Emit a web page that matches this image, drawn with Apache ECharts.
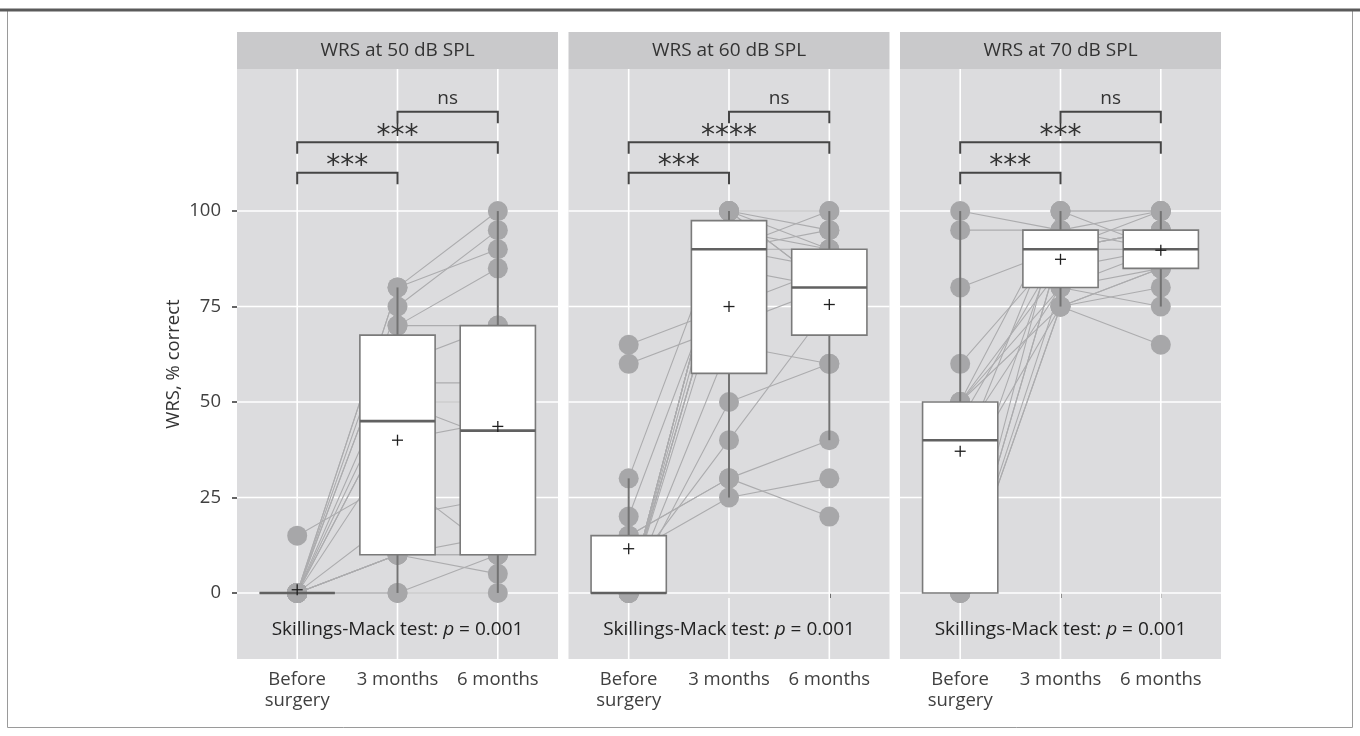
<!DOCTYPE html>
<html>
<head>
<meta charset="utf-8">
<script src="https://cdn.jsdelivr.net/npm/echarts@6/dist/echarts.min.js"></script>
<style>
  html, body { margin: 0; padding: 0; background: #ffffff; }
  #chart { width: 1360px; height: 736px; }
</style>
</head>
<body>
<div id="chart"></div>
<script>
// ---- data ----------------------------------------------------------------
const timepoints = ['Before\nsurgery', '3 months', '6 months'];
const panelTitles = ['WRS at 50 dB SPL', 'WRS at 60 dB SPL', 'WRS at 70 dB SPL'];
const yTicks = [0, 25, 50, 75, 100];

// word recognition score per patient: [before surgery, 3 months, 6 months]
const wrs50 = [
  [0, 80, 100], [0, 80, 90], [0, 75, 95], [0, 70, 85], [15, 30, 10], [0, 70, 70],
  [0, 60, 70], [0, 55, 55], [0, 50, 40], [0, 50, 50], [0, 40, 45], [0, 20, 25],
  [0, 10, 15], [0, 10, 10], [0, 10, 5], [0, 10, 10], [0, 0, 10], [0, 0, 0]
];
const wrs60 = [
  [65, 75, 85], [60, 70, 80], [30, 100, 100], [20, 90, 95], [15, 30, 20], [15, 30, 40],
  [10, 25, 30], [5, 40, 75], [0, 50, 60], [0, 65, 60], [0, 85, 80], [0, 90, 90],
  [0, 90, 100], [0, 90, 85], [0, 95, 90], [0, 100, 95], [0, 100, 90], [0, 100, 80],
  [0, 100, 80]
];
const wrs70 = [
  [100, 95, 100], [95, 95, 95], [80, 90, 90], [60, 90, 95], [50, 100, 100], [50, 80, 85],
  [50, 75, 65], [50, 85, 90], [45, 90, 95], [40, 80, 75], [35, 100, 100], [30, 75, 85],
  [20, 95, 90], [0, 90, 100], [0, 75, 80], [0, 80, 90], [0, 75, 85], [0, 90, 95],
  [0, 100, 90]
];

// pairwise comparisons: [from timepoint, to timepoint]
const comparisons = [[1, 2], [1, 3], [2, 3]];
const sig50 = ['***', '***', 'ns'];
const sig60 = ['***', '****', 'ns'];
const sig70 = ['***', '***', 'ns'];
const testLabel = ['Skillings-Mack test: ', 'p', ' = 0.001'];

// ---- layout & style ------------------------------------------------------
const panels = [
  { data: wrs50, sig: sig50 },
  { data: wrs60, sig: sig60 },
  { data: wrs70, sig: sig70 }
];
const FONT = '"Open Sans", "Noto Sans", sans-serif';
const gridTop = 69, gridHeight = 590, gridWidth = 321;
const gridLefts = [237, 568.5, 900];
const stripTop = 32, stripHeight = 37;
const yMin = -17.3, yMax = 137.2;
const bracketLevels = [110, 118, 126];
const bracketTip = 3;
const testLabelY = -9.7;
const panelBg = '#dcdcde';
const stripBg = '#c9c9cb';
const pointColor = '#a7a7a9';
const pairLineColor = '#acacae';

// ---- statistics (ggplot-style boxplot) -----------------------------------
function quantile7(sorted, p) {
  const h = (sorted.length - 1) * p;
  const lo = Math.floor(h), hi = Math.ceil(h);
  return sorted[lo] + (h - lo) * (sorted[hi] - sorted[lo]);
}
function boxStats(values) {
  const s = values.filter(v => v != null).sort((a, b) => a - b);
  const q1 = quantile7(s, 0.25), med = quantile7(s, 0.5), q3 = quantile7(s, 0.75);
  const iqr = q3 - q1;
  const lo = Math.min(...s.filter(v => v >= q1 - 1.5 * iqr));
  const hi = Math.max(...s.filter(v => v <= q3 + 1.5 * iqr));
  const mean = s.reduce((a, b) => a + b, 0) / s.length;
  return { lo, q1, med, q3, hi, mean };
}

// ---- renderers -----------------------------------------------------------
function renderGridLine(params, api) {
  const cs = params.coordSys;
  const orient = api.value(0), v = api.value(1);
  let shape;
  if (orient === 0) {
    const p = api.coord([v, 0]);
    shape = { x1: p[0], y1: cs.y, x2: p[0], y2: cs.y + cs.height };
  } else {
    const p = api.coord([1, v]);
    shape = { x1: cs.x, y1: p[1], x2: cs.x + cs.width, y2: p[1] };
  }
  return { type: 'line', shape, style: { stroke: '#ffffff', lineWidth: 1.6 } };
}

function renderBox(params, api) {
  const x = api.value(0);
  const lo = api.value(1), q1 = api.value(2), med = api.value(3), q3 = api.value(4), hi = api.value(5);
  const half = 0.375;
  const pLo = api.coord([x, lo]), pHi = api.coord([x, hi]);
  const pQ1 = api.coord([x, q1]), pQ3 = api.coord([x, q3]);
  const left = api.coord([x - half, q3]), right = api.coord([x + half, q1]);
  const mL = api.coord([x - half, med]), mR = api.coord([x + half, med]);
  const whisker = { stroke: '#737373', lineWidth: 2 };
  return {
    type: 'group',
    children: [
      { type: 'line', shape: { x1: pHi[0], y1: pHi[1], x2: pQ3[0], y2: pQ3[1] }, style: whisker },
      { type: 'line', shape: { x1: pQ1[0], y1: pQ1[1], x2: pLo[0], y2: pLo[1] }, style: whisker },
      {
        type: 'rect',
        shape: { x: left[0], y: left[1], width: right[0] - left[0], height: right[1] - left[1] },
        style: { fill: '#ffffff', stroke: '#7a7a7a', lineWidth: 1.6 }
      },
      { type: 'line', shape: { x1: mL[0], y1: mL[1], x2: mR[0], y2: mR[1] }, style: { stroke: '#616161', lineWidth: 2.6 } }
    ]
  };
}

function renderMean(params, api) {
  const p = api.coord([api.value(0), api.value(1)]);
  const r = 5.5;
  const st = { stroke: '#1f1f1f', lineWidth: 1.3 };
  return {
    type: 'group',
    children: [
      { type: 'line', shape: { x1: p[0] - r, y1: p[1], x2: p[0] + r, y2: p[1] }, style: st },
      { type: 'line', shape: { x1: p[0], y1: p[1] - r, x2: p[0], y2: p[1] + r }, style: st }
    ]
  };
}

function makeBracketRenderer(labels) {
  return function (params, api) {
    const x1 = api.value(0), x2 = api.value(1), y = api.value(2);
    const a = api.coord([x1, y]), b = api.coord([x2, y]);
    const a0 = api.coord([x1, y - bracketTip]), b0 = api.coord([x2, y - bracketTip]);
    const label = labels[params.dataIndex];
    const isStars = label.indexOf('*') === 0;
    return {
      type: 'group',
      children: [
        {
          type: 'polyline',
          shape: { points: [[a0[0], a0[1]], [a[0], a[1]], [b[0], b[1]], [b0[0], b0[1]]] },
          style: { stroke: '#454545', lineWidth: 2, fill: null }
        },
        {
          type: 'text',
          x: (a[0] + b[0]) / 2,
          y: isStars ? a[1] + 8 : a[1] - 4,
          style: {
            text: label,
            fill: '#333333',
            font: isStars ? '28px "DejaVu Sans", sans-serif' : '19px ' + FONT,
            textAlign: 'center',
            textVerticalAlign: 'bottom'
          }
        }
      ]
    };
  };
}

function renderTestLabel(params, api) {
  const p = api.coord([api.value(0), api.value(1)]);
  return {
    type: 'text',
    x: p[0],
    y: p[1],
    style: {
      text: '{n|' + testLabel[0] + '}{i|' + testLabel[1] + '}{n|' + testLabel[2] + '}',
      textAlign: 'center',
      textVerticalAlign: 'middle',
      rich: {
        n: { fontFamily: FONT, fontSize: 19, fill: '#222222' },
        i: { fontFamily: FONT, fontSize: 19, fontStyle: 'italic', fill: '#222222' }
      }
    }
  };
}

// ---- option ----------------------------------------------------------------
const grids = [], xAxes = [], yAxes = [], series = [], graphics = [];

graphics.push({
  type: 'rect', silent: true,
  shape: { x: 7.5, y: 10.5, width: 1345, height: 717 },
  style: { fill: null, stroke: '#9a9a9a', lineWidth: 1 }
});
graphics.push({
  type: 'line', silent: true,
  shape: { x1: 0, y1: 10, x2: 1360, y2: 10 },
  style: { stroke: '#5a5a5a', lineWidth: 3 }
});

panels.forEach((panel, i) => {
  grids.push({
    left: gridLefts[i], top: gridTop, width: gridWidth, height: gridHeight,
    show: true, backgroundColor: panelBg, borderWidth: 0, containLabel: false
  });

  graphics.push({
    type: 'rect', silent: true,
    shape: { x: gridLefts[i], y: stripTop, width: gridWidth, height: stripHeight },
    style: { fill: stripBg }
  });
  graphics.push({
    type: 'text', silent: true,
    x: gridLefts[i] + gridWidth / 2, y: stripTop + stripHeight / 2,
    style: {
      text: panelTitles[i], font: '19px ' + FONT, fill: '#333333',
      textAlign: 'center', textVerticalAlign: 'middle'
    }
  });

  xAxes.push({
    type: 'value', gridIndex: i, min: 0.4, max: 3.6,
    axisLine: { show: false },
    splitLine: { show: false },
    axisTick: { show: true, customValues: [1, 2, 3], length: 5, lineStyle: { color: '#333333', width: 1.5 } },
    axisLabel: {
      customValues: [1, 2, 3],
      formatter: v => timepoints[Math.round(v) - 1],
      fontFamily: FONT, fontSize: 18.5, color: '#404040', lineHeight: 21, margin: 10
    }
  });

  yAxes.push({
    type: 'value', gridIndex: i, min: yMin, max: yMax,
    axisLine: { show: false },
    splitLine: { show: false },
    axisTick: { show: i === 0, customValues: yTicks, length: 5, lineStyle: { color: '#333333', width: 1.5 } },
    axisLabel: {
      show: i === 0, customValues: yTicks,
      fontFamily: FONT, fontSize: 18.5, color: '#404040', margin: 16
    },
    name: i === 0 ? 'WRS, % correct' : '',
    nameLocation: 'middle', nameRotate: 90, nameGap: 54,
    nameTextStyle: { fontFamily: FONT, fontSize: 18.5, color: '#333333' }
  });

  // background grid lines
  const gridLines = [[0, 1], [0, 2], [0, 3]].concat(yTicks.map(v => [1, v]));
  series.push({
    type: 'custom', xAxisIndex: i, yAxisIndex: i, silent: true, z: 1,
    renderItem: renderGridLine, data: gridLines, animation: false
  });

  // paired observations
  panel.data.forEach(row => {
    series.push({
      type: 'line', xAxisIndex: i, yAxisIndex: i, silent: true, z: 2,
      symbol: 'none', connectNulls: false, animation: false,
      lineStyle: { color: pairLineColor, width: 1.1 },
      data: row.map((v, t) => [t + 1, v])
    });
  });

  // individual points
  const pts = [];
  panel.data.forEach(row => row.forEach((v, t) => { if (v != null) pts.push([t + 1, v]); }));
  series.push({
    type: 'scatter', xAxisIndex: i, yAxisIndex: i, silent: true, z: 3,
    symbolSize: 20, itemStyle: { color: pointColor, opacity: 1 }, animation: false,
    data: pts
  });

  // boxplots and means
  const boxes = [], means = [];
  for (let t = 0; t < 3; t++) {
    const st = boxStats(panel.data.map(r => r[t]));
    boxes.push([t + 1, st.lo, st.q1, st.med, st.q3, st.hi]);
    means.push([t + 1, st.mean]);
  }
  series.push({
    type: 'custom', xAxisIndex: i, yAxisIndex: i, silent: true, z: 4, animation: false,
    renderItem: renderBox, encode: { x: 0, y: [1, 2, 3, 4, 5] }, data: boxes
  });
  series.push({
    type: 'custom', xAxisIndex: i, yAxisIndex: i, silent: true, z: 5, animation: false,
    renderItem: renderMean, encode: { x: 0, y: 1 }, data: means
  });

  // significance brackets
  series.push({
    type: 'custom', xAxisIndex: i, yAxisIndex: i, silent: true, z: 5, animation: false,
    renderItem: makeBracketRenderer(panel.sig), encode: { x: [0, 1], y: 2 },
    data: comparisons.map((c, k) => [c[0], c[1], bracketLevels[k]])
  });

  // omnibus test result
  series.push({
    type: 'custom', xAxisIndex: i, yAxisIndex: i, silent: true, z: 5, animation: false,
    renderItem: renderTestLabel, encode: { x: 0, y: 1 }, data: [[2, testLabelY]]
  });
});

const chart = echarts.init(document.getElementById('chart'), null, { renderer: 'canvas' });
chart.setOption({
  backgroundColor: '#ffffff',
  animation: false,
  textStyle: { fontFamily: FONT },
  grid: grids,
  xAxis: xAxes,
  yAxis: yAxes,
  series: series,
  graphic: graphics
});
</script>
</body>
</html>
